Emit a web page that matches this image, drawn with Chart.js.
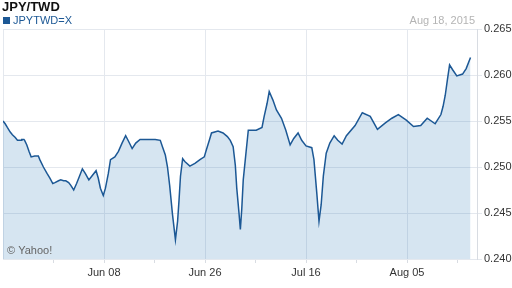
<!DOCTYPE html>
<html>
<head>
<meta charset="utf-8">
<script src="https://cdn.jsdelivr.net/npm/chart.js@4.4.0/dist/chart.umd.min.js"></script>
<style>
  html, body { margin: 0; padding: 0; background: #fff; }
  #wrap { position: relative; width: 512px; height: 288px; }
</style>
</head>
<body>
<div id="wrap"><canvas id="fxChart" width="512" height="288"></canvas></div>
<script>
// trading days since May 19, 2015 (fractional = intraday)
const days = [0.0, 0.3, 0.6, 1.0, 1.3, 1.7, 2.0, 2.5, 2.6, 2.9, 3.0, 3.3, 3.6, 3.9, 4.4, 4.9, 5.1, 5.6, 6.1, 6.5,
  6.9, 7.2, 7.7, 8.0, 8.4, 8.7, 9.1, 9.4, 9.8, 10.2, 10.6, 11.0, 11.4, 11.9, 12.3, 12.9, 13.2, 13.5, 13.9, 14.2,
  14.6, 14.9, 15.5, 16.0, 16.5, 17.0, 17.4, 17.9, 18.4, 19.0, 21.1, 21.8, 22.1, 22.5, 22.8, 23.1, 23.5, 23.9, 24.2, 24.4,
  24.6, 24.9, 25.2, 25.9, 26.6, 27.3, 27.9, 28.2, 28.6, 28.9, 29.8, 30.5, 31.1, 31.5, 31.9, 32.2, 32.4, 32.7, 32.9, 33.1,
  33.3, 33.7, 34.0, 34.5, 35.1, 35.9, 36.2, 36.6, 36.9, 37.4, 37.9, 38.6, 39.2, 39.8, 40.3, 40.9, 41.4, 42.0, 42.8, 43.1,
  43.5, 43.8, 44.1, 44.4, 44.8, 45.3, 45.9, 46.4, 47.0, 47.6, 48.8, 49.8, 50.9, 51.9, 53.0, 53.9, 54.8, 55.9, 56.9, 57.9,
  58.8, 59.9, 60.7, 61.0, 61.3, 61.6, 61.9, 62.3, 62.9, 63.7, 64.2, 64.8];

const rates = [0.2550, 0.2547, 0.2543, 0.2538, 0.2535, 0.2532, 0.2529, 0.2529, 0.2530, 0.2530, 0.2529, 0.2524, 0.2517, 0.2511, 0.2512, 0.2512, 0.2508, 0.2500, 0.2493, 0.2488,
  0.2482, 0.2483, 0.2485, 0.2486, 0.2485, 0.2485, 0.2483, 0.2480, 0.2475, 0.2482, 0.2490, 0.2498, 0.2493, 0.2486, 0.2490, 0.2496, 0.2488, 0.2477, 0.2469, 0.2477,
  0.2493, 0.2508, 0.2511, 0.2517, 0.2526, 0.2534, 0.2528, 0.2520, 0.2526, 0.2530, 0.2530, 0.2529, 0.2522, 0.2513, 0.2500, 0.2480, 0.2448, 0.2421, 0.2441, 0.2464,
  0.2490, 0.2509, 0.2506, 0.2501, 0.2504, 0.2508, 0.2511, 0.2519, 0.2529, 0.2537, 0.2539, 0.2537, 0.2533, 0.2529, 0.2522, 0.2502, 0.2477, 0.2451, 0.2432, 0.2455,
  0.2486, 0.2517, 0.2540, 0.2540, 0.2540, 0.2543, 0.2555, 0.2569, 0.2582, 0.2573, 0.2562, 0.2553, 0.2540, 0.2524, 0.2531, 0.2537, 0.2529, 0.2523, 0.2521, 0.2508,
  0.2471, 0.2441, 0.2459, 0.2490, 0.2515, 0.2526, 0.2534, 0.2529, 0.2525, 0.2534, 0.2545, 0.2559, 0.2555, 0.2541, 0.2548, 0.2553, 0.2557, 0.2551, 0.2544, 0.2545,
  0.2553, 0.2547, 0.2557, 0.2566, 0.2578, 0.2595, 0.2611, 0.2606, 0.2599, 0.2601, 0.2607, 0.2619];

const tickDays = [0, 7, 14, 21, 28, 35, 42, 49, 56, 63];
const labelDays = [14, 28, 42, 56];
const xTickLabels = ['Jun 08', 'Jun 26', 'Jul 16', 'Aug 05'];
const yTicks = [0.240, 0.245, 0.250, 0.255, 0.260, 0.265];

const gridCol = '#e4e8ee';
const lineCol = '#1c5895';

const points = days.map((d, i) => ({ x: d, y: rates[i] }));

// header texts + watermark
const textPlugin = {
  id: 'texts',
  afterDraw(chart) {
    const c = chart.ctx;
    c.save();
    c.textBaseline = 'alphabetic';
    c.fillStyle = '#111';
    c.font = 'bold 13px "Liberation Sans", Arial, sans-serif';
    c.textAlign = 'left';
    c.fillText('JPY/TWD', 2, 11);
    c.fillStyle = lineCol;
    c.fillRect(3, 17, 7, 7);
    c.font = '11px "Liberation Sans", Arial, sans-serif';
    c.fillText('JPYTWD=X', 13, 24);
    c.fillStyle = '#b4b4b4';
    c.textAlign = 'right';
    c.fillText('Aug 18, 2015', 475, 24);
    c.fillStyle = '#666';
    c.textAlign = 'left';
    c.fillText('\u00a9 Yahoo!', 7, 254);
    c.restore();
  }
};

new Chart(document.getElementById('fxChart'), {
  type: 'line',
  data: {
    datasets: [{
      label: 'JPYTWD=X',
      data: points,
      borderColor: lineCol,
      backgroundColor: 'rgba(30,110,180,0.18)',
      borderWidth: 1.5,
      pointRadius: 0,
      tension: 0,
      fill: 'start'
    }]
  },
  options: {
    responsive: false,
    animation: false,
    layout: { padding: { left: 3, top: 29, right: 0, bottom: 0 } },
    plugins: { legend: { display: false }, tooltip: { enabled: false } },
    scales: {
      x: {
        type: 'linear',
        min: 0,
        max: 65.7,
        afterBuildTicks: s => { s.ticks = tickDays.map(v => ({ value: v })); },
        afterFit: s => { s.height = 29; },
        grid: {
          color: ctx => (ctx.tick && ctx.tick.value % 14 === 0) ? gridCol : 'rgba(0,0,0,0)',
          tickColor: ctx => (ctx.tick && ctx.tick.value > 0) ? '#d8dce2' : 'rgba(0,0,0,0)',
          tickLength: 4,
          drawTicks: true
        },
        border: { display: false },
        ticks: {
          autoSkip: false,
          maxRotation: 0,
          padding: 3,
          color: '#333',
          font: { family: '"Liberation Sans", Arial, sans-serif', size: 11 },
          callback: v => {
            const k = labelDays.indexOf(v);
            return k >= 0 ? xTickLabels[k] : '';
          }
        }
      },
      y: {
        position: 'right',
        min: 0.240,
        max: 0.265,
        afterBuildTicks: s => { s.ticks = yTicks.map(v => ({ value: v })); },
        afterFit: s => { s.width = 35; },
        grid: { color: gridCol, tickLength: 5 },
        border: { display: true, color: '#d8dce2' },
        ticks: {
          padding: 2,
          color: '#333',
          font: { family: '"Liberation Sans", Arial, sans-serif', size: 11 },
          callback: v => v.toFixed(3)
        }
      }
    }
  },
  plugins: [textPlugin]
});
</script>
</body>
</html>
